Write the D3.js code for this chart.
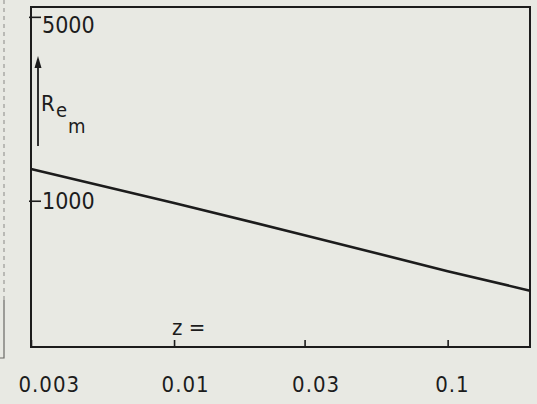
<!DOCTYPE html>
<html lang="en">
<head>
<meta charset="utf-8">
<title>Re_m against z</title>
<script src="https://cdnjs.cloudflare.com/ajax/libs/d3/7.8.5/d3.min.js"></script>
<style>
  html, body { margin: 0; padding: 0; background: #e8e9e3; }
  svg { display: block; }
  .lbl { font-family: "DejaVu Sans Condensed", "DejaVu Sans", sans-serif; fill: #1c1c1c; }
</style>
</head>
<body>
<div id="chart"></div>
<script>
// values
const zValues = [0.003, 0.01, 0.03, 0.1, 0.2];
const reValues = [1320, 980, 740, 540, 455];
const xTickValues = [0.003, 0.01, 0.03, 0.1];
const xTickLabels = ["0.003", "0.01", "0.03", "0.1"];
const yTickValues = [1000, 5000];
const yTickLabels = ["1000", "5000"];

const w = 537, h = 404;
const frameL = 31, frameR = 530, frameT = 7, frameB = 347;
const ink = "#1c1c1c";

const svg = d3.select("#chart").append("svg")
  .attr("width", w)
  .attr("height", h);

const xScale = d3.scaleLog().domain([0.003, 0.2]).range([frameL, frameR]);
const yScale = d3.scaleLog().domain([278, 5450]).range([frameB, frameT]);

// scan margin line on the far left
svg.append("line")
  .attr("x1", 4).attr("x2", 4).attr("y1", 0).attr("y2", 300)
  .attr("stroke", "#9a9a96").attr("stroke-width", 1.2)
  .attr("stroke-dasharray", "4,4");
svg.append("path")
  .attr("d", "M4,300 V358 H0")
  .attr("fill", "none").attr("stroke", "#6a6a66").attr("stroke-width", 1.2);

// frame
svg.append("rect")
  .attr("x", frameL).attr("y", frameT)
  .attr("width", frameR - frameL).attr("height", frameB - frameT)
  .attr("fill", "none").attr("stroke", ink).attr("stroke-width", 2);

// x axis: ticks point up, labels well below
const xAxis = d3.axisBottom(xScale)
  .tickValues(xTickValues)
  .tickFormat((d, i) => xTickLabels[i])
  .tickSize(-7)
  .tickPadding(29);
const gx = svg.append("g")
  .attr("transform", "translate(0," + frameB + ")")
  .call(xAxis);
gx.select(".domain").remove();
gx.selectAll("line").attr("stroke", ink).attr("stroke-width", 1.6);
gx.selectAll("text")
  .attr("class", "lbl")
  .attr("text-anchor", "start")
  .attr("dx", -13)
  .style("font-size", "22px")
  .style("letter-spacing", "1px");

// y axis: ticks point right, labels inside the frame
const yAxis = d3.axisRight(yScale)
  .tickValues(yTickValues)
  .tickFormat((d, i) => yTickLabels[i])
  .tickSize(10)
  .tickPadding(1);
const gy = svg.append("g")
  .attr("transform", "translate(" + frameL + ",0)")
  .call(yAxis);
gy.select(".domain").remove();
gy.selectAll("line").attr("stroke", ink).attr("stroke-width", 1.6).attr("x1", -2);
gy.selectAll("text")
  .attr("class", "lbl")
  .attr("y", d => Math.max(0, frameT + 18 - yScale(d)))
  .style("font-size", "23px");

// curve
const line = d3.line()
  .x((d, i) => xScale(zValues[i]))
  .y(d => yScale(d));
svg.append("path")
  .datum(reValues)
  .attr("d", line)
  .attr("fill", "none")
  .attr("stroke", ink)
  .attr("stroke-width", 2.6);

// arrow with R_e_m label
svg.append("line")
  .attr("x1", 38).attr("x2", 38).attr("y1", 66).attr("y2", 146)
  .attr("stroke", ink).attr("stroke-width", 1.8);
svg.append("path")
  .attr("d", "M38,56 L34.5,68 L41.5,68 Z")
  .attr("fill", ink);

svg.append("text").attr("class", "lbl")
  .attr("x", 41).attr("y", 111).style("font-size", "22px").text("R");
svg.append("text").attr("class", "lbl")
  .attr("x", 56).attr("y", 117).style("font-size", "20px").text("e");
svg.append("text").attr("class", "lbl")
  .attr("x", 68).attr("y", 133).style("font-size", "20px").text("m");

// axis name
svg.append("text")
  .attr("class", "lbl")
  .attr("x", 172).attr("y", 335)
  .style("font-size", "22px")
  .text("z =");
</script>
</body>
</html>
